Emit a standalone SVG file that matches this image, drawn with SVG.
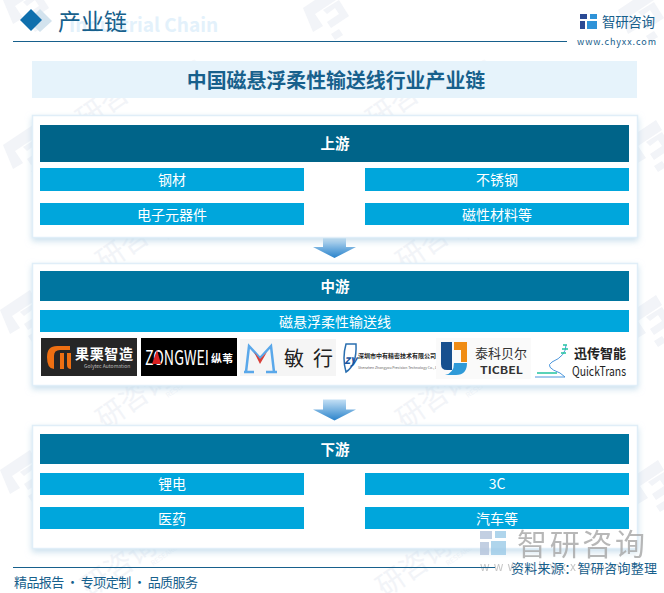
<svg xmlns="http://www.w3.org/2000/svg" width="664" height="593" viewBox="0 0 664 593">
<style>
text{font-family:"Noto Sans CJK SC","Liberation Sans",sans-serif}
.panel{fill:#fff;stroke:#e0eef8;stroke-width:1.5;filter:url(#sh)}
.bar{fill:#00a6dc}
.lab{fill:#fff;font-size:14px;text-anchor:middle}
.hd{fill:#fff;font-size:14.5px;font-weight:700;text-anchor:middle}
.wm{fill:#f2f4f8;font-size:28px}
.wms{fill:#f2f4f8;font-size:7px}
.rule{stroke:#17608c;stroke-width:1}
</style>
<defs>
<filter id="sh" x="-5%" y="-10%" width="110%" height="125%"><feDropShadow dx="0" dy="3" stdDeviation="3" flood-color="#b5d3e6" flood-opacity=".7"/></filter>
<linearGradient id="ag" x1="0" y1="0" x2="0" y2="1"><stop offset="0" stop-color="#c4e0f5"/><stop offset="1" stop-color="#2a83cb"/></linearGradient>
<g id="wlogo"><path d="M-22 -10 L8 -30 L14 -20 L-10 -4 L-2 8 L-12 14 Z M-2 -8 L14 -18 L24 -2 L6 10 L2 4 L14 -4 L10 -10 L2 -4 Z M6 16 L14 11 L18 17 L10 22 Z" fill="#f2f4f8"/></g>
<g id="wtext"><text class="wm">研咨询</text><text class="wms" x="70" y="10">RESEARCH GROUP</text></g>
<path id="arrow" d="M10 0 H33 V10 H43 L21.500 21 L0 10 H10 Z" fill="url(#ag)"/>
</defs>
<rect width="664" height="593" fill="#fff"/>
<g id="watermarks">
<use href="#wlogo" x="25" y="10"/><use href="#wlogo" x="325" y="18"/><use href="#wlogo" x="640" y="20"/>
<use href="#wlogo" x="25" y="155"/><use href="#wlogo" x="648" y="150"/>
<use href="#wlogo" x="22" y="320"/><use href="#wlogo" x="648" y="325"/>
<use href="#wlogo" x="22" y="480"/><use href="#wlogo" x="650" y="490"/>
<use href="#wtext" transform="translate(85,130) rotate(-35)"/><use href="#wtext" transform="translate(375,130) rotate(-35)"/>
<use href="#wtext" transform="translate(105,272) rotate(-35)"/><use href="#wtext" transform="translate(405,272) rotate(-35)"/>
<use href="#wtext" transform="translate(105,430) rotate(-35)"/><use href="#wtext" transform="translate(405,430) rotate(-35)"/>
<use href="#wtext" transform="translate(90,598) rotate(-35)"/><use href="#wtext" transform="translate(385,598) rotate(-35)"/>
</g>
<g id="header">
<path d="M40 9 L52 21 L40 32 L28 21 Z" fill="#d3e3ee"/>
<path d="M31 9 L42 20 L31 31 L20 20 Z" fill="#0f6fad"/>
<text x="69" y="32" font-size="19" font-weight="700" fill="#e3f1fb" font-family="Liberation Sans">Industrial Chain</text>
<text x="58" y="30" font-size="23" fill="#17608c">产业链</text>
<line class="rule" x1="13" y1="41.500" x2="567" y2="41.500"/>
<g id="brand">
<rect x="580" y="14" width="7" height="5" fill="#2b4a94"/><rect x="580" y="21" width="5" height="8" fill="#2b4a94"/><rect x="590" y="14" width="7" height="5" fill="#2f93d8"/><rect x="587" y="21" width="10" height="8" fill="#2f93d8"/>
<text x="602" y="27" font-size="13.500" fill="#17608c" textLength="53">智研咨询</text>
<text x="577" y="45" font-size="9" fill="#17608c" font-family="Liberation Serif" textLength="79">www.chyxx.com</text>
</g>
</g>
<g id="title">
<rect x="32" y="61" width="605" height="37" fill="#e6f3fb"/>
<text x="336" y="88" font-size="19.900" font-weight="700" fill="#17608c" text-anchor="middle">中国磁悬浮柔性输送线行业产业链</text>
</g>
<g id="connectors">
<use href="#arrow" x="313" y="237"/>
<use href="#arrow" x="313" y="399.500"/>
</g>
<g id="upstream">
<rect class="panel" x="32.500" y="115.500" width="605" height="122"/>
<rect x="40" y="125" width="589" height="37" fill="#006489"/>
<text class="hd" x="335" y="149">上游</text>
<rect class="bar" x="40" y="168" width="264" height="23"/><text class="lab" x="172" y="185">钢材</text>
<rect class="bar" x="365" y="168" width="264" height="23"/><text class="lab" x="497" y="185">不锈钢</text>
<rect class="bar" x="40" y="203" width="264" height="22"/><text class="lab" x="172" y="220">电子元器件</text>
<rect class="bar" x="365" y="203" width="264" height="22"/><text class="lab" x="497" y="220">磁性材料等</text>
</g>
<g id="midstream">
<rect class="panel" x="32.500" y="263.500" width="605" height="122"/>
<rect x="40" y="271" width="589" height="30" fill="#00759f"/>
<text class="hd" x="335" y="292">中游</text>
<rect class="bar" x="40" y="310" width="589" height="22"/><text class="lab" x="335" y="327">磁悬浮柔性输送线</text>
<g id="logo-guolu">
<rect x="41" y="338" width="96" height="38" fill="#262626"/>
<path d="M57 346 Q47 346 47 357 Q47 369 54 369 V356 Q54 350 60 350 H70 V346 Z M60 353 V369 H64 V353 Z M67 353 V365 Q67 369 71 369 V353 Z" fill="#ee6f12"/>
<text x="75" y="359" font-size="14" font-weight="700" fill="#fff" textLength="58">果栗智造</text>
<text x="84" y="368" font-size="5" fill="#bbb">Golytec Automation</text>
</g>
<g id="logo-zongwei">
<rect x="141" y="338" width="96" height="38" fill="#000"/>
<text x="145" y="365" font-size="20" fill="#fff" font-family="Liberation Sans" textLength="64" lengthAdjust="spacingAndGlyphs">ZONGWEI</text>
<path d="M157 350 L161 364 H152 Z" fill="#d92020"/>
<text x="211" y="363" font-size="11" fill="#fff" font-weight="700">纵苇</text>
</g>
<g id="logo-minxing">
<rect x="240" y="339" width="96" height="37" fill="#f5f5f5"/>
<path d="M246 372 L249 346 L260 358 L271 346 L274 372 M244 372 H254 M266 372 H277" fill="none" stroke="#5aa8ea" stroke-width="2.500"/>
<path d="M254 352 L260 359 L267 352 L260 364 Z" fill="#d8403a"/>
<text x="284" y="366" font-size="20" fill="#222" textLength="49">敏行</text>
</g>
<g id="logo-zhongyou">
<path d="M346 344 Q342 358 346 372 Q357 365 356 344 Z" fill="none" stroke="#2a6fb0" stroke-width="1.500"/>
<text x="344" y="364" font-size="12" font-style="italic" font-weight="700" fill="#1a55a0" font-family="Liberation Serif">zy</text>
<text x="358" y="358" font-size="6" font-weight="700" fill="#222">深圳市中有精密技术有限公司</text>
<text x="358" y="369" font-size="3.500" fill="#666">Shenzhen Zhongyou Precision Technology Co., LTD</text>
</g>
<g id="logo-ticbel">
<rect x="436" y="338" width="95" height="41" fill="#fafafa"/>
<path d="M441 342 H452 V370 H447 Q441 370 441 364 Z" fill="#17508f"/>
<path d="M454 342 H467 V362 H461 V350 H454 Z" fill="#f08c14"/>
<path d="M454 363 L467 363 Q467 375 456 375 H445 Q454 373 454 363 Z" fill="#2f9ad8"/>
<text x="475" y="358" font-size="13" fill="#333">泰科贝尔</text>
<text x="480" y="374" font-size="10" font-weight="700" fill="#333" font-family="Liberation Sans" textLength="43" lengthAdjust="spacingAndGlyphs">TICBEL</text>
</g>
<g id="logo-quicktrans">
<path d="M566 345 Q566 356 552 362 Q544 367 560 373 L565 377 H535" fill="none" stroke="#4b96dc" stroke-width="1"/>
<path d="M537 373 H557" stroke="#22c3a0" stroke-width="1.500"/>
<path d="M563 345 H567 M562 349 H568 M561 353 H566" stroke="#22c3a0" stroke-width="1.500"/>
<text x="574" y="358" font-size="13" font-weight="700" fill="#222">迅传智能</text>
<text x="572" y="376" font-size="13" fill="#222" font-family="Liberation Sans" textLength="54" lengthAdjust="spacingAndGlyphs">QuickTrans</text>
</g>
</g>
<g id="downstream">
<rect class="panel" x="32.500" y="425.500" width="605" height="123"/>
<rect x="40" y="434" width="589" height="30" fill="#00759f"/>
<text class="hd" x="335" y="455">下游</text>
<rect class="bar" x="40" y="473" width="264" height="22"/><text class="lab" x="172" y="489">锂电</text>
<rect class="bar" x="365" y="473" width="264" height="22"/><text class="lab" x="497" y="489">3C</text>
<rect class="bar" x="40" y="507" width="264" height="22"/><text class="lab" x="172" y="524">医药</text>
<rect class="bar" x="365" y="507" width="264" height="22"/><text class="lab" x="497" y="524">汽车等</text>
</g>
<g id="footer">
<g id="footer-mark" opacity=".8">
<rect x="480" y="531" width="12" height="8" fill="#b4c4dc"/><rect x="480" y="542" width="9" height="13" fill="#b4c4dc"/><rect x="495" y="531" width="11" height="7" fill="#9ccbe8"/><rect x="491" y="541" width="15" height="14" fill="#9ccbe8"/>
<text x="517" y="555" font-size="30" fill="#a6a6a6" textLength="128">智研咨询</text>
<text x="480" y="571" font-size="12" fill="#b8b8b8" font-family="Liberation Serif" textLength="140">www.chyxx.com</text>
</g>
<line class="rule" x1="13" y1="567.500" x2="495" y2="567.500"/>
<text x="14" y="587" font-size="13" fill="#17608c" textLength="184">精品报告 · 专项定制 · 品质服务</text>
<text x="511" y="573" font-size="13" fill="#17608c" textLength="146">资料来源：智研咨询整理</text>
</g>
</svg>
